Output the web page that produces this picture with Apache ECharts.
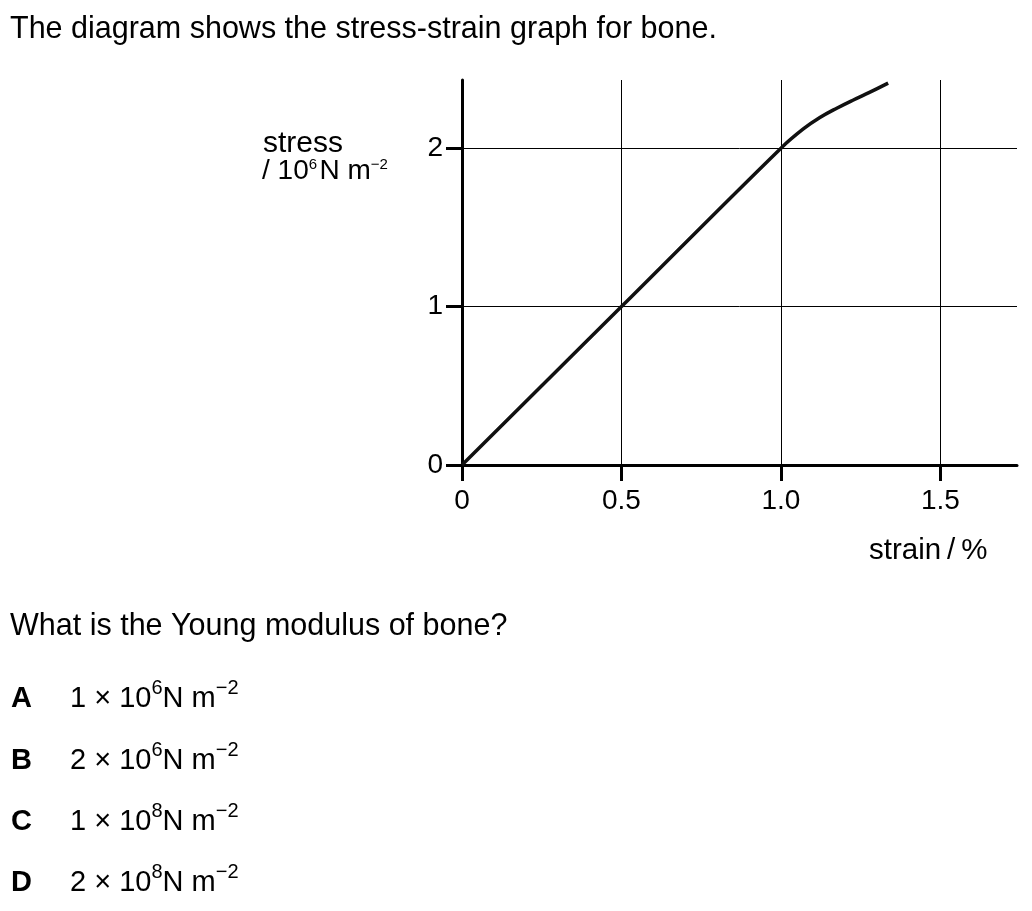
<!DOCTYPE html>
<html>
<head>
<meta charset="utf-8">
<script src="https://cdn.jsdelivr.net/npm/echarts@6/dist/echarts.min.js"></script>
<style>
  html, body { margin: 0; padding: 0; background: #fff; }
  #chart { width: 1032px; height: 911px; }
</style>
</head>
<body>
<div id="chart"></div>
<script>
// ---- data ----
var strainValues = [0, 0.5, 1.0, 1.07, 1.122, 1.175, 1.227, 1.279, 1.336];
var stressValues = [0, 1.0, 2.0, 2.121, 2.193, 2.252, 2.304, 2.353, 2.41];
var xTicks = [0, 0.5, 1.0, 1.5];
var xTickLabels = ['0', '0.5', '1.0', '1.5'];
var yTicks = [0, 1, 2];
var yTickLabels = ['0', '1', '2'];
var xMax = 1.74;
var yMax = 2.43;
var titleText = 'The diagram shows the stress-strain graph for bone.';
var questionText = 'What is the Young modulus of bone?';
var optionLetters = ['A', 'B', 'C', 'D'];
var optionMantissa = ['1', '2', '1', '2'];
var optionExponent = ['6', '6', '8', '8'];

var FONT = '"Liberation Sans", Arial, Helvetica, sans-serif';

function pairs(xs, ys) { return xs.map(function (x, i) { return [x, ys[i]]; }); }

var chart = echarts.init(document.getElementById('chart'), null, { renderer: 'canvas' });

var graphics = [
  { type: 'text', x: 10, y: 30, style: { text: titleText, fontSize: 30.5, fontFamily: FONT, fill: '#000', verticalAlign: 'middle', align: 'left' } },
  { type: 'text', x: 263, y: 144, style: { text: 'stress', fontSize: 30, fontFamily: FONT, fill: '#000', verticalAlign: 'middle', align: 'left' } },
  { type: 'text', x: 262, y: 171, style: {
      text: '/ 10{s|6}\u200aN m{s|\u22122}', fontSize: 28, fontFamily: FONT, fill: '#000', verticalAlign: 'middle', align: 'left', lineHeight: 28,
      rich: { s: { fontSize: 15, fontFamily: FONT, fill: '#000', verticalAlign: 'top', lineHeight: 15 } } } },
  { type: 'text', x: 869, y: 551, style: { text: 'strain\u2009/\u2009%', fontSize: 29.5, fontFamily: FONT, fill: '#000', verticalAlign: 'middle', align: 'left' } },
  { type: 'text', x: 10, y: 627, style: { text: questionText, fontSize: 30.5, fontFamily: FONT, fill: '#000', verticalAlign: 'middle', align: 'left' } }
];
var optY = [699, 761, 822, 883];
optionLetters.forEach(function (L, i) {
  graphics.push({ type: 'text', x: 11, y: optY[i], style: { text: L, fontSize: 29, fontWeight: 'bold', fontFamily: FONT, fill: '#000', verticalAlign: 'middle', align: 'left' } });
  graphics.push({ type: 'text', x: 70, y: optY[i], style: {
    text: optionMantissa[i] + ' \u00d7 10{s|' + optionExponent[i] + '}N m{s|\u22122}',
    fontSize: 29, fontFamily: FONT, fill: '#000', verticalAlign: 'middle', align: 'left', lineHeight: 42,
    rich: { s: { fontSize: 20, fontFamily: FONT, fill: '#000', verticalAlign: 'top', lineHeight: 20 } } } });
});

var option = {
  animation: false,
  backgroundColor: '#fff',
  grid: { left: 462, top: 80, right: 15, bottom: 446, containLabel: false },
  xAxis: {
    type: 'value', min: 0, max: xMax, interval: 0.5,
    axisLine: { show: true, lineStyle: { color: '#000', width: 3 } },
    axisTick: { show: true, length: 16, lineStyle: { color: '#000', width: 3 }, customValues: xTicks },
    axisLabel: { show: true, customValues: xTicks, margin: 22, fontSize: 28, fontFamily: FONT, color: '#000',
      formatter: function (v) { var i = xTicks.indexOf(v); return i >= 0 ? xTickLabels[i] : ''; } },
    splitLine: { show: true, lineStyle: { color: '#000', width: 1 } }
  },
  yAxis: {
    type: 'value', min: 0, max: yMax, interval: 1,
    axisLine: { show: true, lineStyle: { color: '#000', width: 3 } },
    axisTick: { show: true, length: 16, lineStyle: { color: '#000', width: 3 }, customValues: yTicks },
    axisLabel: { show: true, customValues: yTicks, margin: 19, fontSize: 28, fontFamily: FONT, color: '#000',
      formatter: function (v) { var i = yTicks.indexOf(v); return i >= 0 ? yTickLabels[i] : ''; } },
    splitLine: { show: true, lineStyle: { color: '#000', width: 1 } }
  },
  series: [
    { type: 'line', data: pairs(strainValues, stressValues), smooth: 0.4, showSymbol: false, symbol: 'none',
      lineStyle: { color: '#111', width: 3.5 }, z: 5 }
  ],
  graphic: graphics
};
chart.setOption(option);
</script>
</body>
</html>
